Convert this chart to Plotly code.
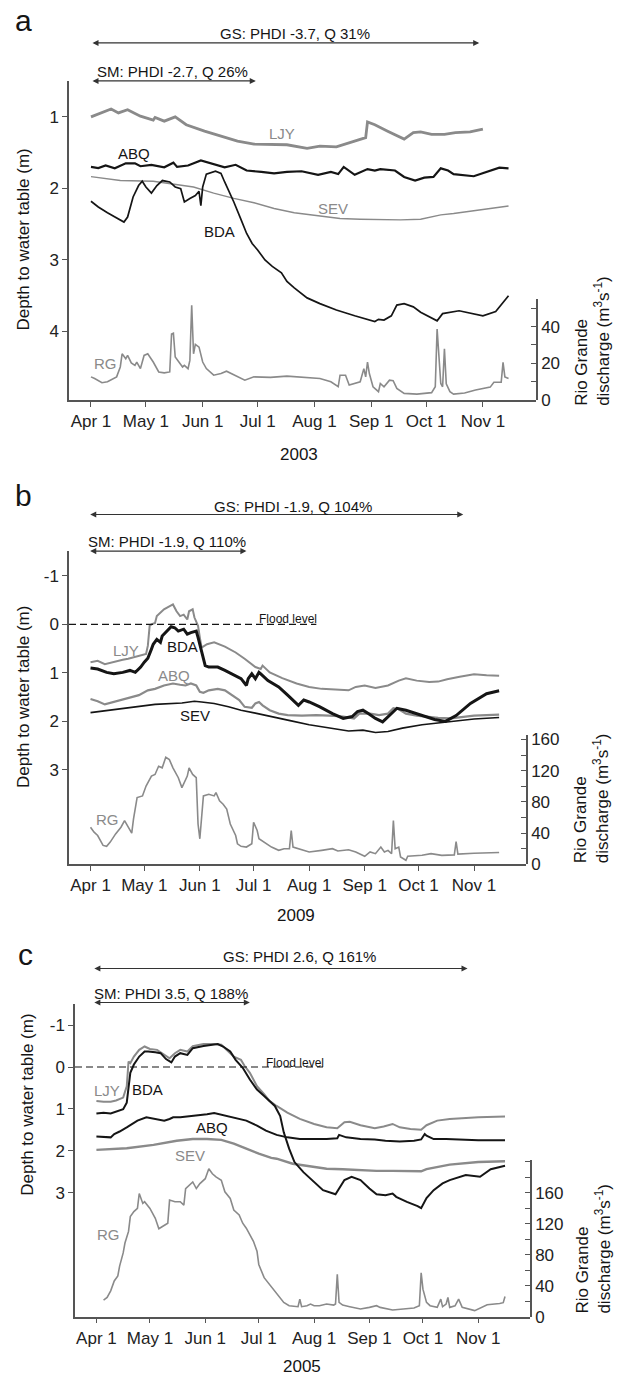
import plotly.graph_objects as go

W, H = 618, 1384
GRAY = "#8a8a8a"
BLACK = "#151515"
AXIS = "#555555"
FONT = "Liberation Sans, Arial, sans-serif"

MONTH_TICKS = ["04-01", "05-01", "06-01", "07-01", "08-01", "09-01", "10-01", "11-01"]
MONTH_TEXT = ["Apr 1", "May 1", "Jun 1", "Jul 1", "Aug 1", "Sep 1", "Oct 1", "Nov 1"]
X_START, X_END = "03-20", "11-30"

# ---------------- 2003 (a) ----------------
A_YEAR = 2003
A_GS = ("04-01", "10-30")
A_SM = ("04-01", "06-30")
A_GS_TEXT = "GS: PHDI -3.7, Q 31%"
A_SM_TEXT = "SM: PHDI -2.7, Q 26%"

A_LJY_D = ["04-01", "04-06", "04-12", "04-16", "04-21", "04-28", "05-05", "05-06", "05-11", "05-17",
           "05-23", "06-02", "06-11", "06-20", "06-29", "07-08", "07-17", "07-28", "08-04", "08-13",
           "08-22", "08-29", "08-30", "09-03", "09-10", "09-19", "09-24", "09-28", "10-04", "10-11",
           "10-17", "10-25", "11-01"]
A_LJY = [1.00, 0.945, 0.89, 0.945, 0.90, 0.99, 1.046, 1.01, 1.06, 1.00,
         1.11, 1.20, 1.27, 1.34, 1.38, 1.39, 1.39, 1.44, 1.41, 1.42,
         1.35, 1.29, 1.07, 1.11, 1.20, 1.31, 1.22, 1.21, 1.245, 1.245,
         1.22, 1.21, 1.17]

A_ABQ_D = ["04-01", "04-05", "04-09", "04-14", "04-20", "04-25", "04-28", "05-04", "05-11", "05-16",
           "05-18", "05-24", "05-31", "06-04", "06-08", "06-13", "06-19", "06-25", "07-03", "07-10",
           "07-17", "07-25", "08-03", "08-10", "08-14", "08-17", "08-23", "08-30", "09-03", "09-06",
           "09-14", "09-19", "09-25", "09-30", "10-05", "10-09", "10-13", "10-16", "10-27", "11-05",
           "11-10", "11-15"]
A_ABQ = [1.70, 1.715, 1.68, 1.72, 1.65, 1.65, 1.69, 1.67, 1.705, 1.64,
         1.70, 1.68, 1.61, 1.64, 1.67, 1.705, 1.67, 1.75, 1.77, 1.79,
         1.77, 1.76, 1.81, 1.77, 1.80, 1.70, 1.81, 1.73, 1.75, 1.73,
         1.75, 1.84, 1.89, 1.85, 1.84, 1.72, 1.75, 1.80, 1.83, 1.75,
         1.71, 1.72]

A_SEV_D = ["04-01", "04-17", "05-05", "05-16", "05-27", "06-07", "06-18", "06-29", "07-10", "07-21",
           "08-04", "08-15", "08-26", "09-06", "09-17", "09-28", "10-04", "10-09", "10-16", "11-01",
           "11-15"]
A_SEV = [1.835, 1.89, 1.90, 1.935, 1.98, 2.065, 2.14, 2.20, 2.28, 2.34,
         2.39, 2.42, 2.43, 2.44, 2.44, 2.43, 2.40, 2.37, 2.35, 2.29,
         2.245]

A_BDA_D = ["04-01", "04-05", "04-10", "04-16", "04-19", "04-21", "04-24", "04-27", "04-29", "05-01",
           "05-04", "05-07", "05-10", "05-14", "05-17", "05-20", "05-22", "05-25", "05-28", "05-30",
           "05-31", "06-01", "06-03", "06-08", "06-11", "06-13", "06-16", "06-18", "06-22", "06-25",
           "06-28", "07-01", "07-05", "07-09", "07-14", "07-17", "07-21", "07-28", "08-04", "08-13",
           "08-23", "09-03", "09-05", "09-08", "09-12", "09-15", "09-19", "09-24", "09-28", "10-04",
           "10-07", "10-10", "10-16", "10-19", "11-01", "11-08", "11-15"]
A_BDA = [2.18, 2.26, 2.34, 2.42, 2.47, 2.40, 2.12, 1.96, 1.90, 1.98,
         2.065, 1.96, 1.89, 1.91, 1.98, 2.005, 2.19, 2.14, 2.10, 2.04,
         2.24, 1.98, 1.80, 1.76, 1.79, 1.91, 2.07, 2.19, 2.44, 2.63,
         2.77, 2.86, 3.00, 3.09, 3.18, 3.30, 3.39, 3.53, 3.61, 3.70,
         3.78, 3.86, 3.83, 3.84, 3.78, 3.63, 3.61, 3.655, 3.73, 3.81,
         3.85, 3.75, 3.72, 3.71, 3.78, 3.72, 3.50]

A_RG_D = ["04-01", "04-03", "04-07", "04-10", "04-15", "04-17", "04-18", "04-20", "04-21", "04-23",
          "04-25", "04-26", "04-28", "04-30", "05-02", "05-05", "05-08", "05-11", "05-14", "05-15",
          "05-16", "05-17", "05-21", "05-22", "05-24", "05-25", "05-26", "05-27", "05-28", "05-30",
          "06-01", "06-03", "06-07", "06-11", "06-14", "06-18", "06-24", "06-29", "07-08", "07-17",
          "07-26", "08-04", "08-10", "08-14", "08-15", "08-18", "08-20", "08-23", "08-26", "08-28",
          "08-29", "08-30", "08-31", "09-02", "09-05", "09-06", "09-08", "09-11", "09-13", "09-15",
          "09-19", "09-26", "10-04", "10-06", "10-07", "10-09", "10-10", "10-11", "10-12", "10-14",
          "10-16", "10-22", "10-28", "11-05", "11-07", "11-11", "11-12", "11-13", "11-15"]
A_RG = [12.6, 11.7, 9.4, 9.9, 12.6, 18.0, 25.2, 22.5, 24.3, 20.2,
        18.9, 20.7, 17.1, 24.3, 25.2, 20.7, 15.3, 14.8, 15.3, 36.0,
        36.4, 23.4, 18.0, 18.9, 17.1, 21.6, 51.7, 25.2, 30.3, 28.8,
        20.7, 17.1, 13.5, 14.4, 15.7, 13.9, 10.8, 12.6, 12.3, 13.0,
        12.3, 11.7, 9.9, 7.2, 13.5, 13.5, 8.1, 9.0, 9.9, 17.1,
        12.6, 20.7, 14.4, 7.2, 4.5, 9.0, 7.2, 10.8, 10.5, 6.3,
        3.6, 3.2, 4.0, 7.2, 38.7, 9.0, 7.2, 27.9, 8.8, 4.5,
        3.2, 3.8, 5.4, 7.0, 9.7, 9.7, 20.5, 12.6, 11.7]

# ---------------- 2009 (b) ----------------
B_YEAR = 2009
B_GS = ("03-31", "10-26")
B_SM = ("03-31", "06-27")
B_GS_TEXT = "GS: PHDI -1.9, Q 104%"
B_SM_TEXT = "SM: PHDI -1.9, Q 110%"
B_FLOOD_END = "08-05"

B_LJY_D = ["04-01", "04-05", "04-09", "04-14", "04-19", "04-22", "04-28", "05-02", "05-03", "05-04",
           "05-05", "05-07", "05-08", "05-10", "05-12", "05-15", "05-17", "05-19", "05-21", "05-23",
           "05-25", "05-26", "05-28", "05-29", "05-30", "05-31", "06-01", "06-02", "06-05", "06-09",
           "06-15", "06-21", "06-26", "07-02", "07-05", "07-06", "07-10", "07-17", "07-25", "08-01",
           "08-08", "08-17", "08-23", "08-27", "09-01", "09-07", "09-14", "09-20", "09-24", "09-30",
           "10-07", "10-12", "10-17", "10-24", "11-01", "11-08", "11-15"]
B_LJY = [0.78, 0.75, 0.82, 0.77, 0.73, 0.71, 0.65, 0.61, 0.44, 0.03,
         0.00, -0.03, -0.17, -0.24, -0.31, -0.37, -0.41, -0.27, -0.17, -0.20,
         -0.10, -0.27, -0.31, -0.14, -0.07, 0.03, 0.27, 0.48, 0.41, 0.37,
         0.46, 0.58, 0.71, 0.88, 0.92, 0.85, 0.99, 1.11, 1.22, 1.29,
         1.33, 1.34, 1.36, 1.29, 1.26, 1.31, 1.26, 1.16, 1.11, 1.16,
         1.19, 1.18, 1.13, 1.08, 1.03, 1.05, 1.06]

B_BDA_D = ["04-01", "04-05", "04-10", "04-14", "04-19", "04-23", "04-26", "04-29", "05-01", "05-03",
           "05-05", "05-06", "05-08", "05-10", "05-11", "05-13", "05-16", "05-18", "05-20", "05-23",
           "05-25", "05-27", "05-30", "05-31", "06-02", "06-04", "06-06", "06-11", "06-15", "06-19",
           "06-24", "06-27", "06-28", "06-30", "07-02", "07-04", "07-05", "07-09", "07-15", "07-20",
           "07-26", "07-29", "08-01", "08-07", "08-14", "08-20", "08-25", "08-28", "08-31", "09-03",
           "09-07", "09-11", "09-14", "09-19", "09-24", "09-30", "10-05", "10-10", "10-16", "10-22",
           "10-30", "11-08", "11-15"]
B_BDA = [0.90, 0.92, 0.99, 1.02, 0.99, 0.95, 0.99, 0.88, 0.78, 0.70,
         0.51, 0.41, 0.31, 0.37, 0.24, 0.17, 0.05, 0.07, 0.14, 0.10,
         0.20, 0.17, 0.14, 0.27, 0.58, 0.85, 0.88, 0.88, 0.95, 1.02,
         1.12, 1.26, 1.12, 1.02, 1.12, 0.99, 1.02, 1.16, 1.29, 1.46,
         1.67, 1.56, 1.60, 1.70, 1.84, 1.94, 1.90, 1.80, 1.77, 1.84,
         1.94, 2.01, 1.90, 1.73, 1.77, 1.84, 1.90, 1.96, 2.00, 1.88,
         1.63, 1.43, 1.37]

B_ABQ_D = ["04-01", "04-05", "04-09", "04-14", "04-19", "04-24", "04-28", "05-03", "05-07", "05-12",
           "05-17", "05-21", "05-24", "05-27", "05-30", "06-01", "06-03", "06-06", "06-11", "06-15",
           "06-19", "06-23", "06-26", "06-30", "07-02", "07-04", "07-06", "07-10", "07-15", "07-20",
           "07-28", "08-05", "08-12", "08-20", "08-26", "08-29", "09-04", "09-09", "09-14", "09-17",
           "09-20", "09-24", "09-30", "10-05", "10-12", "10-19", "11-01", "11-15"]
B_ABQ = [1.54, 1.585, 1.65, 1.60, 1.56, 1.50, 1.46, 1.36, 1.33, 1.26,
         1.22, 1.245, 1.26, 1.22, 1.26, 1.39, 1.41, 1.36, 1.33, 1.36,
         1.46, 1.56, 1.70, 1.72, 1.63, 1.60, 1.67, 1.77, 1.84, 1.87,
         1.88, 1.87, 1.88, 1.90, 1.94, 1.84, 1.84, 1.87, 1.84, 1.73,
         1.75, 1.84, 1.88, 1.90, 1.93, 1.94, 1.88, 1.86]

B_SEV_D = ["04-01", "04-19", "05-07", "05-22", "05-29", "06-02", "06-09", "06-17", "06-24", "07-02",
           "07-09", "07-22", "08-01", "08-12", "08-23", "08-31", "09-07", "09-14", "09-22", "10-03",
           "10-18", "11-01", "11-15"]
B_SEV = [1.82, 1.73, 1.65, 1.62, 1.585, 1.60, 1.63, 1.70, 1.77, 1.83,
         1.89, 1.99, 2.07, 2.14, 2.20, 2.18, 2.23, 2.21, 2.14, 2.07,
         2.006, 1.95, 1.92]

B_RG_D = ["04-01", "04-03", "04-05", "04-08", "04-10", "04-12", "04-15", "04-18", "04-20", "04-22",
          "04-24", "04-25", "04-27", "04-30", "05-02", "05-05", "05-07", "05-09", "05-11", "05-13",
          "05-15", "05-17", "05-20", "05-22", "05-25", "05-26", "05-28", "05-30", "05-31", "06-01",
          "06-02", "06-03", "06-06", "06-09", "06-10", "06-12", "06-14", "06-16", "06-18", "06-21",
          "06-22", "06-24", "06-27", "06-30", "07-01", "07-03", "07-04", "07-07", "07-11", "07-15",
          "07-18", "07-21", "07-22", "07-23", "07-26", "08-01", "08-08", "08-14", "08-17", "08-23",
          "08-27", "09-01", "09-04", "09-07", "09-10", "09-12", "09-14", "09-16", "09-17", "09-18",
          "09-20", "09-21", "09-24", "09-25", "10-03", "10-08", "10-14", "10-18", "10-21", "10-22",
          "10-23", "11-01", "11-15"]
B_RG = [47.4, 41.1, 36.8, 24.1, 22.9, 28.4, 38.9, 47.4, 55.9, 48.3,
        39.8, 58.0, 85.5, 87.6, 100.3, 113.0, 115.1, 125.7, 123.6, 137.1,
        134.2, 123.6, 110.9, 98.2, 113.0, 123.6, 115.1, 110.9, 51.6, 32.6,
        55.9, 87.6, 89.7, 87.6, 91.9, 81.3, 77.0, 70.7, 51.6, 36.8,
        26.2, 22.9, 22.0, 26.2, 53.8, 43.2, 32.6, 28.4, 22.0, 17.8,
        19.9, 19.9, 43.2, 22.0, 19.9, 15.7, 17.8, 19.9, 16.9, 18.6,
        15.7, 10.2, 15.7, 13.5, 22.0, 15.7, 17.8, 13.5, 55.9, 19.9,
        22.0, 9.3, 5.1, 10.2, 11.4, 13.5, 11.4, 11.4, 12.0, 29.0,
        13.0, 14.0, 15.0]

# ---------------- 2005 (c) ----------------
C_YEAR = 2005
C_GS = ("03-30", "10-26")
C_SM = ("03-30", "06-26")
C_GS_TEXT = "GS: PHDI 2.6, Q 161%"
C_SM_TEXT = "SM: PHDI 3.5, Q 188%"
C_FLOOD_END = "08-06"

C_LJY_D = ["04-01", "04-05", "04-09", "04-12", "04-16", "04-18", "04-19", "04-20", "04-22", "04-25",
           "04-28", "05-01", "05-05", "05-09", "05-12", "05-15", "05-18", "05-22", "05-25", "05-31",
           "06-06", "06-10", "06-13", "06-17", "06-21", "06-23", "06-26", "06-30", "07-04", "07-07",
           "07-11", "07-17", "07-24", "08-01", "08-08", "08-14", "08-18", "08-21", "08-27", "09-04",
           "09-09", "09-14", "09-18", "09-24", "09-30", "10-03", "10-09", "10-16", "11-01", "11-16"]
C_LJY = [0.81, 0.83, 0.83, 0.80, 0.73, 0.46, -0.13, -0.09, -0.25, -0.41,
         -0.49, -0.43, -0.41, -0.29, -0.21, -0.33, -0.41, -0.37, -0.50, -0.55,
         -0.55, -0.53, -0.41, -0.25, -0.17, -0.03, 0.14, 0.46, 0.65, 0.81,
         0.93, 1.09, 1.24, 1.36, 1.44, 1.46, 1.32, 1.31, 1.39, 1.46,
         1.42, 1.36, 1.44, 1.48, 1.50, 1.39, 1.28, 1.24, 1.20, 1.18]

C_BDA_D = ["04-01", "04-05", "04-09", "04-12", "04-16", "04-18", "04-19", "04-20", "04-22", "04-25",
           "04-28", "04-30", "05-04", "05-07", "05-10", "05-13", "05-15", "05-18", "05-22", "05-25",
           "05-31", "06-06", "06-08", "06-11", "06-15", "06-18", "06-22", "06-26", "06-30", "07-04",
           "07-07", "07-10", "07-13", "07-15", "07-18", "07-21", "07-26", "08-01", "08-06", "08-13",
           "08-15", "08-18", "08-22", "08-27", "09-01", "09-05", "09-10", "09-14", "09-16", "09-22",
           "09-28", "09-30", "10-03", "10-07", "10-12", "10-16", "10-25", "11-02", "11-08", "11-16"]
C_BDA = [1.11, 1.09, 1.11, 1.07, 1.01, 0.85, 0.42, 0.14, -0.06, -0.25,
         -0.37, -0.37, -0.35, -0.33, -0.19, -0.11, -0.25, -0.33, -0.29, -0.45,
         -0.50, -0.53, -0.55, -0.49, -0.37, -0.17, 0.02, 0.30, 0.54, 0.69,
         0.81, 0.93, 1.17, 1.56, 1.95, 2.27, 2.51, 2.74, 2.94, 3.04,
         2.90, 2.70, 2.62, 2.70, 2.90, 3.04, 3.06, 3.02, 3.10, 3.22,
         3.32, 3.37, 3.13, 2.94, 2.78, 2.70, 2.58, 2.62, 2.44, 2.36]

C_ABQ_D = ["04-01", "04-09", "04-11", "04-14", "04-18", "04-24", "04-29", "05-05", "05-09", "05-12",
           "05-14", "05-18", "05-25", "06-02", "06-06", "06-11", "06-17", "06-24", "06-30", "07-05",
           "07-11", "07-17", "07-24", "08-01", "08-08", "08-14", "08-15", "08-19", "08-27", "09-04",
           "09-10", "09-18", "09-26", "09-30", "10-02", "10-03", "10-07", "10-14", "11-01", "11-16"]
C_ABQ = [1.66, 1.68, 1.60, 1.54, 1.44, 1.28, 1.20, 1.24, 1.28, 1.24,
         1.20, 1.20, 1.17, 1.13, 1.10, 1.15, 1.20, 1.28, 1.40, 1.52,
         1.62, 1.68, 1.72, 1.72, 1.72, 1.70, 1.62, 1.68, 1.72, 1.73,
         1.76, 1.78, 1.76, 1.73, 1.60, 1.64, 1.72, 1.72, 1.75, 1.75]

C_SEV_D = ["04-01", "04-18", "05-03", "05-16", "05-25", "06-02", "06-10", "06-17", "06-24", "07-01",
           "07-08", "07-11", "07-20", "08-01", "08-08", "08-17", "08-27", "09-05", "09-14", "09-24",
           "09-30", "10-03", "10-09", "10-16", "11-01", "11-16"]
C_SEV = [1.98, 1.94, 1.86, 1.76, 1.72, 1.72, 1.74, 1.83, 1.95, 2.07,
         2.17, 2.19, 2.31, 2.39, 2.43, 2.44, 2.47, 2.48, 2.48, 2.48,
         2.49, 2.44, 2.39, 2.33, 2.27, 2.25]

C_RG_D = ["04-05", "04-07", "04-09", "04-11", "04-13", "04-14", "04-16", "04-17", "04-19", "04-20",
          "04-22", "04-24", "04-25", "04-27", "04-28", "05-01", "05-04", "05-06", "05-08", "05-10",
          "05-11", "05-12", "05-15", "05-18", "05-20", "05-21", "05-23", "05-25", "05-27", "05-29",
          "06-01", "06-03", "06-05", "06-07", "06-10", "06-12", "06-15", "06-17", "06-20", "06-22",
          "06-24", "06-26", "06-28", "06-30", "07-01", "07-04", "07-07", "07-11", "07-15", "07-18",
          "07-23", "07-24", "07-25", "07-28", "07-30", "08-01", "08-04", "08-08", "08-12", "08-13",
          "08-14", "08-15", "08-17", "08-21", "08-27", "09-01", "09-05", "09-07", "09-14", "09-20",
          "09-26", "09-29", "09-30", "10-01", "10-03", "10-05", "10-09", "10-11", "10-12", "10-14",
          "10-15", "10-16", "10-19", "10-21", "10-23", "10-30", "11-06", "11-13", "11-15", "11-16"]
C_RG = [21.3, 24.7, 33.3, 46.1, 52.5, 65.3, 82.3, 95.1, 110.1, 129.3,
        135.7, 139.9, 159.1, 146.3, 148.5, 139.9, 127.1, 113.5, 116.5, 118.6,
        120.7, 150.6, 148.5, 148.5, 144.2, 165.5, 169.8, 174.1, 165.5, 171.9,
        178.3, 191.1, 184.7, 180.5, 176.2, 161.3, 152.7, 137.8, 131.4, 120.7,
        114.3, 105.8, 97.3, 84.5, 67.4, 50.3, 41.8, 29.0, 18.3, 14.1,
        12.8, 22.6, 12.8, 14.1, 16.2, 14.1, 14.1, 16.2, 14.9, 16.2,
        54.6, 18.3, 14.9, 12.8, 9.8, 11.9, 14.1, 11.9, 8.5, 9.8,
        11.1, 14.1, 56.7, 35.4, 18.3, 14.1, 11.9, 22.6, 12.8, 16.2,
        24.7, 11.9, 14.0, 22.6, 12.0, 7.7, 15.4, 17.0, 18.0, 26.0]


def stamp(year, mmdd):
    return [f"{year}-{d}" for d in mmdd]


def px(x):
    return x / W


def py(y):
    return 1 - y / H


# Panel geometry in page pixels: plot box, discharge-axis top, depth/discharge ranges
PANELS = [
    dict(year=A_YEAR, xa="x", ya="y", yb="y2", box=(69, 536, 78, 400), qtop=298,
         depth_range=[4.956, 0.502], depth_ticks=[1, 2, 3, 4],
         q_range=[0, 55.1], q_step=10, q_label_every=2),
    dict(year=B_YEAR, xa="x2", ya="y3", yb="y4", box=(69, 526, 553, 869), qtop=738,
         depth_range=[4.945, -1.504], depth_ticks=[-1, 0, 1, 2, 3],
         q_range=[0, 166.3], q_step=20, q_label_every=2),
    dict(year=C_YEAR, xa="x3", ya="y5", yb="y6", box=(75, 530, 1010, 1326), qtop=1168,
         depth_range=[5.96, -1.51], depth_ticks=[-1, 0, 1, 2, 3],
         q_range=[0, 202.2], q_step=20, q_label_every=2),
]

fig = go.Figure()


def add_line(p, dates, vals, color, width, right=False):
    fig.add_trace(go.Scatter(
        x=stamp(p["year"], dates), y=vals, mode="lines",
        line=dict(color=color, width=width),
        xaxis=p["xa"], yaxis=p["yb"] if right else p["ya"],
        hoverinfo="skip", showlegend=False))


pa, pb, pc = PANELS

# panel a traces
add_line(pa, A_SEV_D, A_SEV, GRAY, 1.4)
add_line(pa, A_LJY_D, A_LJY, GRAY, 2.8)
add_line(pa, A_BDA_D, A_BDA, BLACK, 1.7)
add_line(pa, A_ABQ_D, A_ABQ, BLACK, 2.2)
add_line(pa, A_RG_D, A_RG, GRAY, 1.6, right=True)

# panel b traces
add_line(pb, B_LJY_D, B_LJY, GRAY, 2.0)
add_line(pb, B_ABQ_D, B_ABQ, GRAY, 2.2)
add_line(pb, B_SEV_D, B_SEV, BLACK, 1.6)
add_line(pb, B_BDA_D, B_BDA, BLACK, 3.0)
add_line(pb, B_RG_D, B_RG, GRAY, 1.6, right=True)

# panel c traces
add_line(pc, C_SEV_D, C_SEV, GRAY, 2.4)
add_line(pc, C_LJY_D, C_LJY, GRAY, 2.0)
add_line(pc, C_ABQ_D, C_ABQ, BLACK, 2.0)
add_line(pc, C_BDA_D, C_BDA, BLACK, 2.0)
add_line(pc, C_RG_D, C_RG, GRAY, 1.6, right=True)

TICKFONT = dict(family=FONT, size=17, color="#222222")
layout = {}
for i, p in enumerate(PANELS):
    x0, x1, y0, y1 = p["box"]
    xkey = "xaxis" if i == 0 else f"xaxis{i + 1}"
    ykey = "yaxis" if p["ya"] == "y" else "yaxis" + p["ya"][1:]
    qkey = "yaxis" + p["yb"][1:]
    yr = p["year"]
    layout[xkey] = dict(
        domain=[px(x0), px(x1)], anchor=p["ya"], type="date",
        range=[f"{yr}-{X_START}", f"{yr}-{X_END}"],
        tickvals=stamp(yr, MONTH_TICKS), ticktext=MONTH_TEXT, tickangle=0,
        showline=True, linecolor=AXIS, linewidth=1.5, ticks="outside", ticklen=5,
        tickcolor=AXIS, tickwidth=1.2, showgrid=False, zeroline=False, tickfont=TICKFONT)
    layout[ykey] = dict(
        domain=[py(y1), py(y0)], anchor=p["xa"], range=p["depth_range"],
        tickvals=p["depth_ticks"], ticktext=[str(v) for v in p["depth_ticks"]],
        showline=True, linecolor=AXIS, linewidth=1.5, ticks="outside", ticklen=5,
        tickcolor=AXIS, tickwidth=1.2, showgrid=False, zeroline=False, tickfont=TICKFONT)
    qvals = list(range(0, int(p["q_range"][1]) + 1, p["q_step"]))
    qtext = [str(v) if (k % p["q_label_every"] == 0 and v <= 160) else "" for k, v in enumerate(qvals)]
    layout[qkey] = dict(
        domain=[py(y1), py(p["qtop"])], anchor=p["xa"], side="right", range=p["q_range"],
        tickvals=qvals, ticktext=qtext,
        showline=True, linecolor=AXIS, linewidth=1.5, ticks="inside", ticklen=5,
        tickcolor=AXIS, tickwidth=1.2, showgrid=False, zeroline=False, tickfont=TICKFONT)

fig.update_layout(**layout)


def text(x, y, s, size=15, color=BLACK, angle=0, xanchor="center", yanchor="middle", align="center"):
    return dict(xref="paper", yref="paper", x=px(x), y=py(y), text=s, showarrow=False,
                font=dict(family=FONT, size=size, color=color), textangle=angle,
                xanchor=xanchor, yanchor=yanchor, align=align)


def period(p, span, y):
    yr = p["year"]
    return dict(xref=p["xa"], axref=p["xa"], yref="paper", ayref="pixel",
                x=f"{yr}-{span[1]}", ax=f"{yr}-{span[0]}", y=py(y), ay=0,
                text="", showarrow=True, arrowside="end+start", arrowhead=2,
                arrowsize=1.1, arrowwidth=1.1, arrowcolor="#333333", standoff=0, startstandoff=0)


ann = []
# panel letters
ann += [text(23, 17, "a", size=30), text(23, 497, "b", size=30), text(25, 960, "c", size=30)]
# period arrows and text
ann += [period(pa, A_GS, 39.3), text(295, 30, A_GS_TEXT), period(pa, A_SM, 77.7), text(172, 68, A_SM_TEXT)]
ann += [period(pb, B_GS, 515.7), text(293, 507.7, B_GS_TEXT), period(pb, B_SM, 552.7), text(167, 542.7, B_SM_TEXT)]
ann += [period(pc, C_GS, 974.3), text(299, 962.7, C_GS_TEXT), period(pc, C_SM, 1008.7), text(171, 999.3, C_SM_TEXT)]
# years
ann += [text(299, 455, "2003", size=17), text(296, 921, "2009", size=17), text(302, 1376, "2005", size=17)]
# axis titles
for cx, cy, rx, rb in [(24, 238, 593, 408), (24, 700, 591, 870), (28, 1112, 594, 1325)]:
    ann.append(text(cx, cy, "Depth to water table (m)", size=17, angle=-90))
    ann.append(text(rx, rb, "Rio Grande<br>discharge (m<sup>3</sup>s<sup>-1</sup>)", size=17,
                    angle=-90, yanchor="bottom", align="left"))
# series labels
ann += [text(282, 131, "LJY", color=GRAY), text(134, 151, "ABQ"), text(333, 207, "SEV", color=GRAY),
        text(219, 230, "BDA"), text(105, 363, "RG", color=GRAY)]
ann += [text(126, 653, "LJY", color=GRAY), text(182, 649, "BDA"), text(174, 678, "ABQ", color=GRAY),
        text(195, 719, "SEV"), text(107, 824, "RG", color=GRAY)]
ann += [text(107, 1098, "LJY", color=GRAY), text(147, 1097, "BDA"), text(212, 1135, "ABQ"),
        text(190, 1163, "SEV", color=GRAY), text(108, 1243, "RG", color=GRAY)]
# flood level labels
ann += [text(288, 621, "Flood level", size=12), text(295, 1070, "Flood level", size=12)]

shapes = []
for p, end in [(pb, B_FLOOD_END), (pc, C_FLOOD_END)]:
    yr = p["year"]
    shapes.append(dict(type="line", xref=p["xa"], yref=p["ya"], x0=f"{yr}-{X_START}", x1=f"{yr}-{end}",
                       y0=0, y1=0, line=dict(color=BLACK, width=1.2, dash="7px,4px")))

fig.update_layout(
    width=W, height=H, autosize=False,
    margin=dict(l=0, r=0, t=0, b=0),
    paper_bgcolor="white", plot_bgcolor="rgba(0,0,0,0)",
    showlegend=False, annotations=ann, shapes=shapes,
    font=dict(family=FONT, color="#222222"),
)

fig.write_html("out.html")
